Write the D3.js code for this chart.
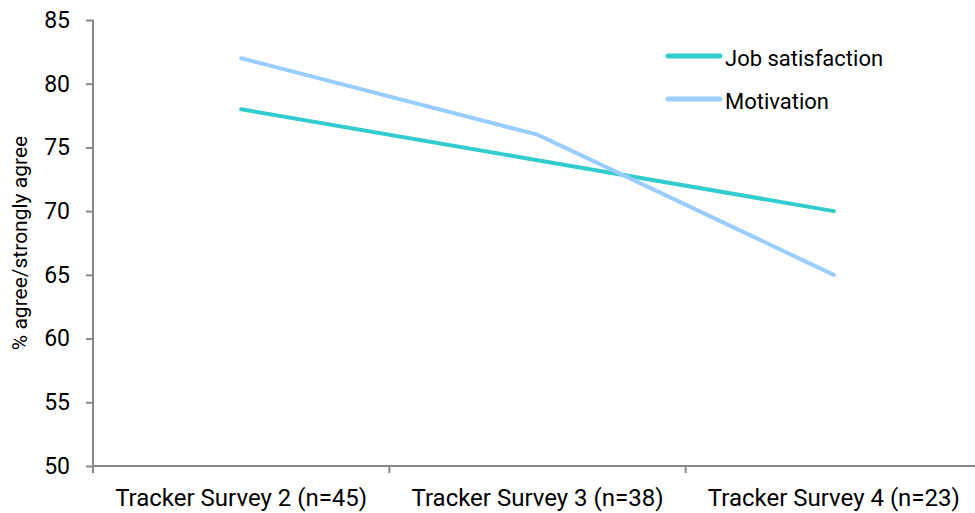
<!DOCTYPE html>
<html><head><meta charset="utf-8">
<script src="https://cdn.jsdelivr.net/npm/d3@7"></script>
<style>body{margin:0;background:#fff}svg{display:block}</style>
</head><body>
<svg id="c" width="975" height="513"></svg>
<script>
const categories = ["Tracker Survey 2 (n=45)", "Tracker Survey 3 (n=38)", "Tracker Survey 4 (n=23)"];
const jobSatisfaction = [78, 74, 70];
const motivation = [82, 76, 65];
const yTicks = [50, 55, 60, 65, 70, 75, 80, 85];
const seriesNames = ["Job satisfaction", "Motivation"];
const colors = ["#33CCCC", "#99CCFF"];

(function () {
const svg = d3.select("#c");
const mLeft = 93, mRight = 982, mTop = 20, mBottom = 466;
const x = d3.scaleBand().domain(categories).range([mLeft, mRight]);
const y = d3.scaleLinear().domain([50, 85]).range([mBottom, mTop]);
const font = "Roboto, sans-serif";

const yAxis = svg.append("g").attr("transform", `translate(${mLeft},0)`)
  .call(d3.axisLeft(y).tickValues(yTicks).tickSize(7).tickPadding(16));
yAxis.selectAll("text").attr("font-family", font).attr("font-size", 23).attr("fill", "#000");
yAxis.selectAll("line,path").attr("stroke", "#888").attr("stroke-width", 2);
yAxis.select("path").attr("d", `M0,${mTop}V${mBottom}`);

const xAxis = svg.append("g").attr("transform", `translate(0,${mBottom})`)
  .call(d3.axisBottom(x).tickSize(0).tickPadding(23));
xAxis.selectAll("text").attr("font-family", font).attr("font-size", 24).attr("fill", "#000");
xAxis.select("path").attr("stroke", "#888").attr("stroke-width", 2).attr("d", `M${mLeft},0H${mRight}`);
xAxis.selectAll(".sep").data(categories).enter().append("line").attr("class", "sep")
  .attr("x1", d => x(d)).attr("x2", d => x(d)).attr("y1", 0).attr("y2", 7)
  .attr("stroke", "#888").attr("stroke-width", 2);

svg.append("text").attr("transform", `translate(27,${(mTop+mBottom)/2}) rotate(-90)`)
  .attr("text-anchor", "middle").attr("font-family", font)
  .attr("font-size", 21).text("% agree/strongly agree");

const line = d3.line().x((d, i) => x(categories[i]) + x.bandwidth() / 2).y(d => y(d));
[jobSatisfaction, motivation].forEach((s, i) => {
  svg.append("path").attr("d", line(s)).attr("fill", "none")
    .attr("stroke", colors[i]).attr("stroke-width", 4).attr("stroke-linecap", "round");
});

const leg = svg.append("g");
seriesNames.forEach((n, i) => {
  const yy = 56 + i * 43;
  leg.append("line").attr("x1", 668).attr("x2", 720).attr("y1", yy).attr("y2", yy)
    .attr("stroke", colors[i]).attr("stroke-width", 5).attr("stroke-linecap", "round");
  leg.append("text").attr("x", 725).attr("y", yy + 10).attr("font-family", font)
    .attr("font-size", 22).text(n);
});
})();
</script>
</body></html>
